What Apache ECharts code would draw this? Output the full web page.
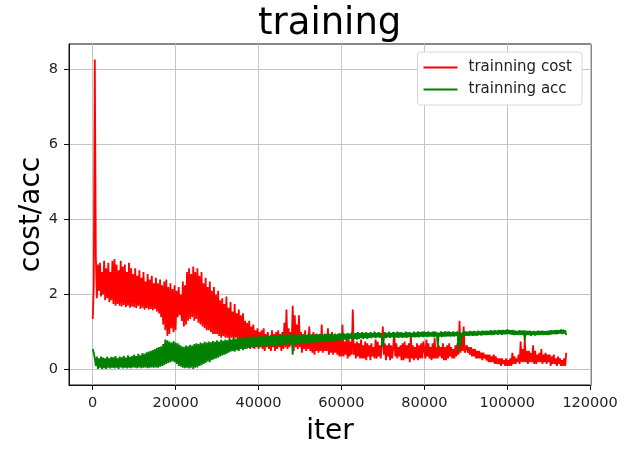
<!DOCTYPE html>
<html>
<head>
<meta charset="utf-8">
<script src="https://cdn.jsdelivr.net/npm/echarts@6/dist/echarts.min.js"></script>
<style>html,body{margin:0;padding:0;background:#fff}#c{width:642px;height:450px}</style>
</head>
<body>
<div id="c"></div>
<script>
// iteration step between logged points
const ITER_STEP = 250;
const xTicks = [0, 20000, 40000, 60000, 80000, 100000, 120000];
const yTicks = [0, 2, 4, 6, 8];
const seriesNames = ['trainning cost', 'trainning acc'];

// one row = 20 logged points = 5000 iterations
const cost = [
1.35,2.2,8.27,3.0,1.9,2.8,2.1,2.85,1.95,2.6,2.0,2.9,1.85,2.7,1.9,2.85,1.8,2.6,1.85,2.9,
1.75,2.95,1.7,2.8,1.75,2.65,1.7,2.9,1.68,2.75,1.72,2.8,1.66,2.6,1.7,2.85,1.65,2.7,1.68,2.55,
1.66,2.7,1.64,2.5,1.7,2.65,1.62,2.45,1.65,2.6,1.6,2.35,1.64,2.55,1.6,2.4,1.62,2.5,1.58,2.3,
1.62,2.45,1.55,2.3,1.5,2.4,1.4,2.25,1.2,2.35,1.05,2.4,0.9,2.2,0.95,2.3,1.1,2.15,1.0,2.25,
1.05,2.1,1.4,2.2,1.45,2.0,1.3,2.35,1.15,2.25,1.2,2.6,1.3,2.7,1.35,2.55,1.4,2.75,1.3,2.6,
1.35,2.7,1.25,2.5,1.2,2.6,1.15,2.3,1.1,2.45,1.05,2.2,1.05,2.35,1.0,2.1,0.95,2.2,0.95,2.0,
0.95,2.1,0.9,1.85,0.85,1.9,0.9,1.75,0.85,1.95,0.85,1.65,0.8,1.8,0.85,1.55,0.8,1.75,0.85,1.5,
0.8,1.6,0.8,1.45,0.75,1.5,0.7,1.3,0.75,1.25,0.6,1.3,0.55,1.15,0.6,1.2,0.55,1.05,0.6,1.1,
0.55,1.0,0.6,1.05,0.55,1.1,0.5,0.95,0.6,1.0,0.55,0.9,0.5,1.05,0.6,0.95,0.5,1.0,0.55,1.05,
0.6,0.95,0.5,1.0,0.55,1.25,0.6,1.6,0.55,1.1,0.6,1.0,0.65,1.7,0.5,1.45,0.6,1.2,0.55,1.45,
0.6,1.0,0.45,0.95,0.55,1.05,0.5,0.9,0.55,1.15,0.5,0.9,0.45,1.0,0.4,0.95,0.5,0.85,0.45,0.95,
0.5,1.2,0.45,0.85,0.5,0.95,0.5,1.1,0.4,0.9,0.45,1.0,0.4,0.9,0.45,0.85,0.4,0.95,0.35,0.85,
0.35,1.2,0.35,0.75,0.4,0.85,0.3,0.8,0.35,0.75,0.4,1.6,0.4,0.7,0.3,0.75,0.35,0.7,0.3,0.8,
0.3,0.65,0.3,0.75,0.25,0.7,0.35,0.65,0.25,0.7,0.35,0.6,0.3,0.8,0.3,0.75,0.35,0.65,0.3,0.7,
1.15,0.4,0.7,0.25,0.65,0.35,0.7,0.25,0.65,0.3,0.6,1.0,0.35,0.7,0.3,0.6,0.35,0.65,0.25,0.7,
0.25,0.75,0.3,0.65,0.3,0.7,0.2,0.95,0.3,0.65,0.25,0.6,0.3,0.7,0.25,0.65,0.3,0.7,0.3,0.75,
0.75,0.3,0.8,0.35,0.7,0.3,0.6,0.25,0.7,0.3,0.85,0.3,0.6,0.3,0.65,0.35,0.6,0.3,0.7,0.25,
0.6,0.25,0.65,0.3,0.7,0.35,0.6,0.3,0.55,0.3,0.65,0.35,0.7,0.4,1.3,0.45,0.9,0.5,1.15,0.45,
0.5,0.65,0.45,0.6,0.4,0.6,0.35,0.55,0.35,0.55,0.3,0.5,0.3,0.5,0.3,0.45,0.25,0.45,0.3,0.4,
0.25,0.4,0.2,0.4,0.2,0.35,0.2,0.4,0.15,0.35,0.15,0.3,0.15,0.3,0.1,0.3,0.15,0.25,0.1,0.3,
0.1,0.25,0.1,0.3,0.1,0.45,0.15,0.35,0.15,0.3,0.2,0.4,0.15,0.75,0.2,0.55,0.2,0.8,0.2,0.5,
0.15,0.5,0.2,0.45,0.2,0.65,0.15,0.5,0.15,0.4,0.2,0.45,0.2,0.55,0.15,0.4,0.2,0.45,0.15,0.4,
0.2,0.4,0.1,0.35,0.15,0.4,0.15,0.3,0.1,0.35,0.15,0.3,0.1,0.25,0.1,0.3,0.1,0.45
];

const acc = [
0.55,0.45,0.3,0.1,0.35,0.02,0.3,0.05,0.35,0.02,0.32,0.04,0.3,0.02,0.35,0.05,0.3,0.03,0.34,0.05,
0.33,0.03,0.36,0.05,0.3,0.02,0.35,0.06,0.33,0.03,0.37,0.05,0.32,0.03,0.38,0.05,0.34,0.04,0.36,0.06,
0.4,0.05,0.36,0.04,0.42,0.06,0.38,0.04,0.44,0.05,0.42,0.06,0.46,0.04,0.48,0.05,0.5,0.06,0.52,0.05,
0.55,0.06,0.58,0.05,0.6,0.08,0.62,0.1,0.68,0.12,0.8,0.15,0.78,0.18,0.75,0.2,0.72,0.22,0.76,0.2,
0.72,0.15,0.7,0.1,0.66,0.08,0.62,0.05,0.6,0.04,0.64,0.05,0.62,0.03,0.66,0.05,0.64,0.02,0.68,0.05,
0.7,0.06,0.68,0.1,0.72,0.12,0.7,0.15,0.74,0.18,0.72,0.22,0.75,0.2,0.73,0.25,0.76,0.28,0.74,0.3,
0.78,0.32,0.75,0.35,0.8,0.38,0.77,0.4,0.8,0.42,0.78,0.45,0.82,0.48,0.8,0.5,0.84,0.48,0.82,0.52,
0.85,0.5,0.83,0.55,0.86,0.52,0.84,0.55,0.88,0.56,0.85,0.58,0.88,0.6,0.86,0.58,0.9,0.6,0.87,0.62,
0.9,0.6,0.88,0.62,0.9,0.64,0.88,0.6,0.92,0.65,0.9,0.62,0.92,0.66,0.89,0.62,0.93,0.65,0.9,0.64,
0.94,0.66,0.9,0.64,0.95,0.68,0.92,0.66,0.95,0.7,0.92,0.68,0.95,0.4,0.9,0.65,0.94,0.7,0.92,0.68,
0.95,0.7,0.92,0.68,0.95,0.72,0.92,0.7,0.96,0.72,0.93,0.7,0.95,0.72,0.92,0.74,0.96,0.72,0.94,0.74,
0.95,0.72,0.93,0.75,0.96,0.74,0.93,0.76,0.95,0.74,0.96,0.76,0.94,0.75,0.96,0.78,0.94,0.76,0.97,0.78,
0.96,0.78,0.98,0.8,0.95,0.78,0.98,0.8,0.96,0.82,0.99,0.8,0.96,0.82,0.98,0.8,1.0,0.82,0.97,0.84,
1.0,0.82,0.98,0.84,1.0,0.82,0.97,0.85,1.0,0.84,0.98,0.86,1.01,0.84,0.98,0.86,1.0,0.85,0.98,0.86,
0.6,0.85,1.0,0.84,0.98,0.86,1.01,0.85,0.98,0.86,1.0,0.84,0.98,0.86,1.01,0.85,0.99,0.86,1.0,0.85,
0.98,0.86,1.01,0.85,0.99,0.87,1.0,0.86,0.98,0.87,1.01,0.86,0.99,0.87,1.02,0.86,1.0,0.88,1.01,0.87,
1.02,0.88,1.0,0.87,1.02,0.88,0.99,0.88,1.01,0.87,1.02,0.88,1.0,0.6,0.98,0.88,1.02,0.87,1.0,0.88,
1.02,0.88,1.01,0.89,1.02,0.88,1.0,0.89,1.02,0.88,1.0,0.9,1.02,0.5,1.0,0.65,0.98,0.88,1.02,0.9,
1.02,0.9,1.01,0.9,1.03,0.91,1.02,0.9,1.03,0.91,1.02,0.9,1.04,0.92,1.02,0.91,1.04,0.92,1.03,0.92,
1.04,0.92,1.03,0.93,1.05,0.92,1.04,0.93,1.05,0.94,1.04,0.93,1.06,0.94,1.05,0.93,1.06,0.94,1.05,0.94,
1.07,0.95,1.06,0.94,1.05,0.93,1.06,0.92,1.04,0.93,1.03,0.92,1.05,0.93,1.04,0.92,1.05,0.78,1.04,0.92,
1.03,0.92,1.04,0.9,1.02,0.92,1.03,0.91,1.02,0.92,1.04,0.92,1.03,0.93,1.04,0.92,1.02,0.93,1.03,0.92,
1.04,0.93,1.05,0.94,1.04,0.95,1.05,0.94,1.06,0.95,1.05,0.96,1.07,0.95,1.06,0.96,1.05,0.92
];

const FONT = 'DejaVu Sans';
const toPairs = arr => arr.map((v, i) => [i * ITER_STEP, v]);

const chart = echarts.init(document.getElementById('c'), null, {renderer: 'canvas'});
chart.setOption({
  animation: false,
  backgroundColor: '#fff',
  title: {
    text: 'training',
    left: 258, top: 6, padding: 0,
    textStyle: {fontFamily: FONT, fontSize: 37, fontWeight: 'normal', color: '#000'}
  },
  legend: {
    data: seriesNames,
    orient: 'vertical',
    right: 60, top: 52,
    padding: [8, 10, 8, 6],
    itemGap: 7,
    itemWidth: 34, itemHeight: 2,
    icon: 'rect',
    backgroundColor: '#fff',
    borderColor: '#d8d8d8', borderWidth: 1, borderRadius: 3,
    textStyle: {fontFamily: FONT, fontSize: 15, color: '#222', padding: [0, 0, 0, 6]}
  },
  grid: {
    left: 69, right: 51, top: 44, bottom: 65,
    show: true, borderColor: '#111', borderWidth: 1, backgroundColor: 'transparent',
    containLabel: false, outerBoundsMode: 'none'
  },
  xAxis: {
    type: 'value',
    min: -5725, max: 120225,
    name: 'iter', nameLocation: 'middle', nameGap: 33, nameMoveOverlap: false,
    nameTextStyle: {fontFamily: FONT, fontSize: 28, color: '#000'},
    axisLine: {show: true, onZero: false, lineStyle: {color: '#111', width: 1}},
    axisTick: {show: true, length: 5, customValues: xTicks, lineStyle: {color: '#111'}},
    axisLabel: {customValues: xTicks, margin: 11, fontFamily: FONT, fontSize: 14.5, color: '#222',
      formatter: v => String(v)},
    splitLine: {show: true, lineStyle: {color: '#c4c4c4', width: 1}}
  },
  yAxis: {
    type: 'value',
    min: -0.41, max: 8.68,
    name: 'cost/acc', nameLocation: 'middle', nameGap: 23, nameMoveOverlap: false,
    nameTextStyle: {fontFamily: FONT, fontSize: 28, color: '#000'},
    axisLine: {show: true, onZero: false, lineStyle: {color: '#111', width: 1}},
    axisTick: {show: true, length: 5, customValues: yTicks, lineStyle: {color: '#111'}},
    axisLabel: {customValues: yTicks, margin: 11, fontFamily: FONT, fontSize: 14.5, color: '#222',
      formatter: v => String(v)},
    splitLine: {show: true, lineStyle: {color: '#c4c4c4', width: 1}}
  },
  series: [
    {
      name: seriesNames[0], type: 'line', data: toPairs(cost),
      showSymbol: false, symbol: 'none', color: '#ff0000',
      lineStyle: {color: '#ff0000', width: 1.8}, z: 2
    },
    {
      name: seriesNames[1], type: 'line', data: toPairs(acc),
      showSymbol: false, symbol: 'none', color: '#008000',
      lineStyle: {color: '#008000', width: 1.8}, z: 3
    }
  ]
});
</script>
</body>
</html>
